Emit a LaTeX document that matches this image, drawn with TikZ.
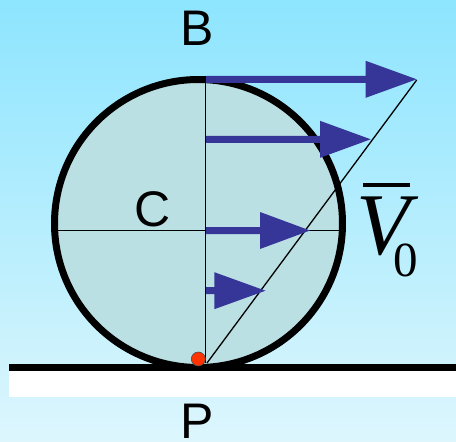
\documentclass[tikz,border=0pt]{standalone}
\usepackage{fontspec}
\setmainfont{Liberation Sans}
\newfontfamily\timesfam{Liberation Serif}
\definecolor{bgtop}{RGB}{141,229,254}
\definecolor{bgbot}{RGB}{221,246,253}
\definecolor{wheelfill}{RGB}{187,224,227}
\definecolor{arrowblue}{RGB}{54,54,153}
\definecolor{dotred}{RGB}{255,51,0}
\newcommand\velarr[3]{% #1 = y, #2 = head base x, #3 = tip x
  \fill[arrowblue] (206,#1-3.5) -- (#2,#1-3.5) -- (#2,#1-18.5) -- (#3,#1)
    -- (#2,#1+18.5) -- (#2,#1+3.5) -- (206,#1+3.5) -- cycle;}
\begin{document}
\begin{tikzpicture}[x=1pt,y=-1pt,
  thinline/.style={line width=1.3pt,black},
  lbl/.style={inner sep=0pt,font=\fontsize{50}{50}\selectfont}]
\useasboundingbox (0,0) rectangle (456,442);
\shade[top color=bgtop,bottom color=bgbot] (0,0) rectangle (456,442);
% ground
\fill[white] (9,370.5) rectangle (456,396.5);
% wheel
\coordinate (C) at (198.5,223.5);
\draw[line width=7pt,fill=wheelfill] (C) circle[radius=144];
\coordinate (B) at (205.7,76);
\coordinate (P) at (205.7,363);
\coordinate (Q) at (207,363);
\coordinate (T) at (416.7,80);
\coordinate (L) at (58,230.5);
\coordinate (R) at (339,230.5);
\draw[thinline] (B) -- (P);
\draw[thinline] (L) -- (R);
\draw[thinline] (Q) -- (T);
% velocity arrows
\velarr{79.3}{365.7}{416.7}
\velarr{139.3}{320}{370.7}
\velarr{230.5}{260}{310}
\velarr{290.7}{214.3}{265.5}
% ground line
\fill[black] (9,363.5) rectangle (456,370.5);
% contact point
\node[circle,fill=dotred,draw=black!70,line width=0.6pt,minimum size=14pt,inner sep=0pt] (dot) at (198.3,359) {};
% labels
\node[lbl] (lB) at (196.7,28) {B};
\node[lbl] (lC) at (152.5,209) {C};
\node[lbl] (lP) at (196.7,421) {P};
\node[inner sep=0pt,font=\timesfam\itshape\fontsize{88}{88}\selectfont] (lV) at (383,226) {V};
\draw[line width=4pt] (363.3,184.5) -- (410,184.5);
\node[inner sep=0pt,font=\timesfam\fontsize{49}{49}\selectfont] (l0) at (405.5,260) {0};
\end{tikzpicture}
\end{document}
